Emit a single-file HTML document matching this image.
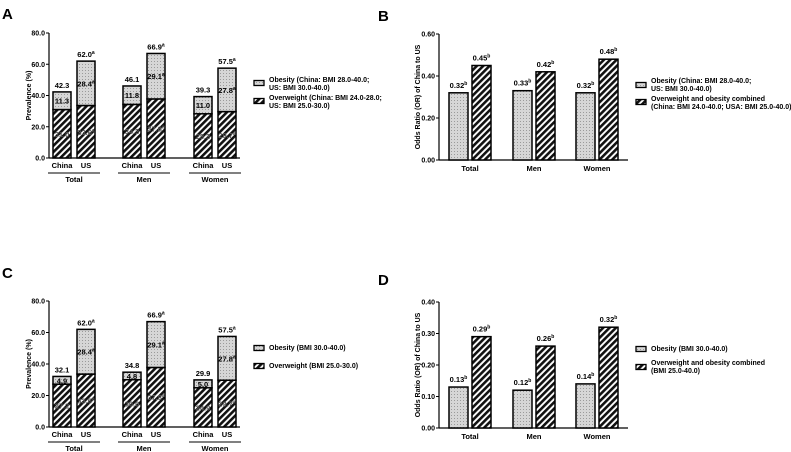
<!DOCTYPE html>
<html><head><meta charset="utf-8"><style>
html,body{margin:0;padding:0;background:#fff;}
svg{display:block;font-family:"Liberation Sans",Arial,sans-serif;font-weight:bold;}
</style></head><body>
<svg id="fig" width="791" height="452" viewBox="0 0 791 452" xmlns="http://www.w3.org/2000/svg">
<defs>
<pattern id="dots" width="3" height="3" patternUnits="userSpaceOnUse"><rect width="3" height="3" fill="#d6d6d6"/><rect x="1" y="1" width="1" height="1" fill="#9a9a9a"/></pattern>
<pattern id="hatch" width="4.5" height="4.5" patternUnits="userSpaceOnUse" patternTransform="rotate(45)"><rect width="4.5" height="4.5" fill="#fff"/><rect width="2.6" height="4.5" fill="#111"/></pattern>
</defs>
<text x="2" y="19" font-size="15">A</text>
<text x="378" y="21" font-size="15">B</text>
<text x="2" y="278" font-size="15">C</text>
<text x="378" y="285" font-size="15">D</text>
</svg>
<script>
const groups = ["Total","Men","Women"];
const countries = ["China","US"];
// Panel A
const aOverweight = [31.0, 33.6, 34.3, 37.8, 28.3, 29.7];
const aObesity = [11.3, 28.4, 11.8, 29.1, 11.0, 27.8];
const aTotals = ["42.3","62.0^a","46.1","66.9^a","39.3","57.5^a"];
const aObLabels = ["11.3","28.4^a","11.8","29.1^a","11.0","27.8^a"];
const aOwLabels = ["31.0","33.6^a","34.3","37.8^a","28.3","29.7^a"];
// Panel C
const cOverweight = [27.2, 33.6, 30.0, 37.8, 24.9, 29.7];
const cObesity = [4.9, 28.4, 4.8, 29.1, 5.0, 27.8];
const cTotals = ["32.1","62.0^a","34.8","66.9^a","29.9","57.5^a"];
const cObLabels = ["4.9","28.4^a","4.8","29.1^a","5.0","27.8^a"];
const cOwLabels = ["27.2","33.6^a","30.0","37.8^a","24.9","29.7^a"];
const prevTicks = [0,20,40,60,80];
// Panel B
const bObesity = [0.32, 0.33, 0.32];
const bCombined = [0.45, 0.42, 0.48];
const bTicks = [0,0.2,0.4,0.6];
// Panel D
const dObesity = [0.13, 0.12, 0.14];
const dCombined = [0.29, 0.26, 0.32];
const dTicks = [0,0.1,0.2,0.3,0.4];

const svg = document.getElementById('fig');
const NS = 'http://www.w3.org/2000/svg';
function mk(tag, attrs, text){const e=document.createElementNS(NS,tag);for(const k in attrs)e.setAttribute(k,attrs[k]);if(text!==undefined)e.textContent=text;svg.appendChild(e);return e;}
function supText(attrs, s){
  const parts=s.split('^');
  const e=mk('text',attrs,parts[0]);
  if(parts[1]){const t=document.createElementNS(NS,'tspan');t.setAttribute('font-size','5');t.setAttribute('dy','-3');t.textContent=parts[1];e.appendChild(t);}
  return e;
}

function stacked(key, top, bottom, ow, ob, totals, obL, owL, legend){
  const x0=49, ymax=80;
  const y = v => bottom - v/ymax*(bottom-top);
  let e=mk('line',{x1:x0,y1:top,x2:x0,y2:bottom,stroke:'#000','stroke-width':1.2});
  
  
  e=mk('line',{x1:x0,y1:bottom,x2:240,y2:bottom,stroke:'#000','stroke-width':1.2});
  
  
  prevTicks.forEach(t=>{
    mk('line',{x1:x0-3,y1:y(t),x2:x0,y2:y(t),stroke:'#000'});
    e=mk('text',{x:x0-4,y:y(t)+2.5,'font-size':7,'text-anchor':'end'},t.toFixed(1));
    
    
  });
  e=mk('text',{x:0,y:0,'font-size':7,'text-anchor':'middle',transform:`translate(31,${(top+bottom)/2}) rotate(-90)`},'Prevalence (%)');
  
  
  const gx=[53,123,194], bw=18, gap=24;
  groups.forEach((g,gi)=>{
    countries.forEach((c,ci)=>{
      const i=gi*2+ci, bx=gx[gi]+ci*gap;
      const yo=y(ow[i]), yt=y(ow[i]+ob[i]);
      e=mk('rect',{x:bx,y:yo,width:bw,height:bottom-yo,fill:'url(#hatch)',stroke:'#000','stroke-width':1.5});
      
      
      e=mk('rect',{x:bx,y:yt,width:bw,height:yo-yt,fill:'url(#dots)',stroke:'#000','stroke-width':1.5});
      
      
      e=supText({x:bx+bw/2,y:yt-4,'font-size':7.5,'text-anchor':'middle'},totals[i]);
      
      
      e=supText({x:bx+bw/2,y:(yo+yt)/2+3,'font-size':7.5,'text-anchor':'middle'},obL[i]);
      
      
      e=supText({x:bx+bw/2,y:(yo+bottom)/2+3,'font-size':7.5,'text-anchor':'middle',fill:'#555'},owL[i]);
      
      
      e=mk('text',{x:bx+bw/2,y:bottom+10,'font-size':7.5,'text-anchor':'middle'},c);
      
      
    });
    const ux=gx[gi]-5;
    e=mk('line',{x1:ux,y1:bottom+15,x2:ux+52,y2:bottom+15,stroke:'#000'});
    
    
    e=mk('text',{x:ux+26,y:bottom+24,'font-size':7.5,'text-anchor':'middle'},g);
    
    
  });
  legendDraw(key, 254, legend);
}

function legendDraw(key, lx, items){
  items.forEach(it=>{
    let e=mk('rect',{x:lx,y:it.y-2.5,width:10,height:5,fill:it.fill,stroke:'#000','stroke-width':1.3});
    
    
    it.lines.forEach((l,li)=>{
      e=mk('text',{x:lx+15,y:it.ty+li*8,'font-size':7},l);
      
      
    });
  });
}

function orChart(key, top, bottom, ymax, ticks, ob, co, legend){
  const x0=439;
  const y = v => bottom - v/ymax*(bottom-top);
  let e=mk('line',{x1:x0,y1:top,x2:x0,y2:bottom,stroke:'#000','stroke-width':1.2});
  
  
  e=mk('line',{x1:x0,y1:bottom,x2:628,y2:bottom,stroke:'#000','stroke-width':1.2});
  
  
  ticks.forEach(t=>{
    mk('line',{x1:x0-3,y1:y(t),x2:x0,y2:y(t),stroke:'#000'});
    e=mk('text',{x:x0-4,y:y(t)+2.5,'font-size':7,'text-anchor':'end'},t.toFixed(2));
    
    
  });
  e=mk('text',{x:0,y:0,'font-size':7,'text-anchor':'middle',transform:`translate(420,${(top+bottom)/2}) rotate(-90)`},'Odds Ratio (OR) of China to US');
  
  
  const gx=[449,513,576], bw=19, gap=23;
  groups.forEach((g,gi)=>{
    [[ob,'url(#dots)','obesity'],[co,'url(#hatch)','combined']].forEach((s,si)=>{
      const v=s[0][gi], bx=gx[gi]+si*gap, yv=y(v);
      e=mk('rect',{x:bx,y:yv,width:bw,height:bottom-yv,fill:s[1],stroke:'#000','stroke-width':1.5});
      
      
      e=supText({x:bx+bw/2,y:yv-5,'font-size':7.5,'text-anchor':'middle'},v.toFixed(2)+'^b');
      
      
    });
    e=mk('text',{x:gx[gi]+21,y:bottom+11,'font-size':7.5,'text-anchor':'middle'},g);
    
    
  });
  legendDraw(key, 636, legend);
}

stacked('a',33,158,aOverweight,aObesity,aTotals,aObLabels,aOwLabels,[
  {y:83,ty:82,fill:'url(#dots)',lines:['Obesity (China: BMI 28.0-40.0;',' US: BMI 30.0-40.0)']},
  {y:101,ty:100,fill:'url(#hatch)',lines:['Overweight (China: BMI 24.0-28.0;',' US: BMI 25.0-30.0)']}]);
stacked('c',301,427,cOverweight,cObesity,cTotals,cObLabels,cOwLabels,[
  {y:348,ty:350,fill:'url(#dots)',lines:['Obesity (BMI 30.0-40.0)']},
  {y:366,ty:368,fill:'url(#hatch)',lines:['Overweight (BMI 25.0-30.0)']}]);
orChart('b',34,160,0.6,bTicks,bObesity,bCombined,[
  {y:85,ty:83,fill:'url(#dots)',lines:['Obesity (China: BMI 28.0-40.0;','US: BMI 30.0-40.0)']},
  {y:102,ty:101,fill:'url(#hatch)',lines:['Overweight and obesity combined','(China: BMI 24.0-40.0; USA: BMI 25.0-40.0)']}]);
orChart('d',302,428,0.4,dTicks,dObesity,dCombined,[
  {y:349,ty:351,fill:'url(#dots)',lines:['Obesity (BMI 30.0-40.0)']},
  {y:367,ty:365,fill:'url(#hatch)',lines:['Overweight and obesity combined','(BMI 25.0-40.0)']}]);
</script>
</body></html>
